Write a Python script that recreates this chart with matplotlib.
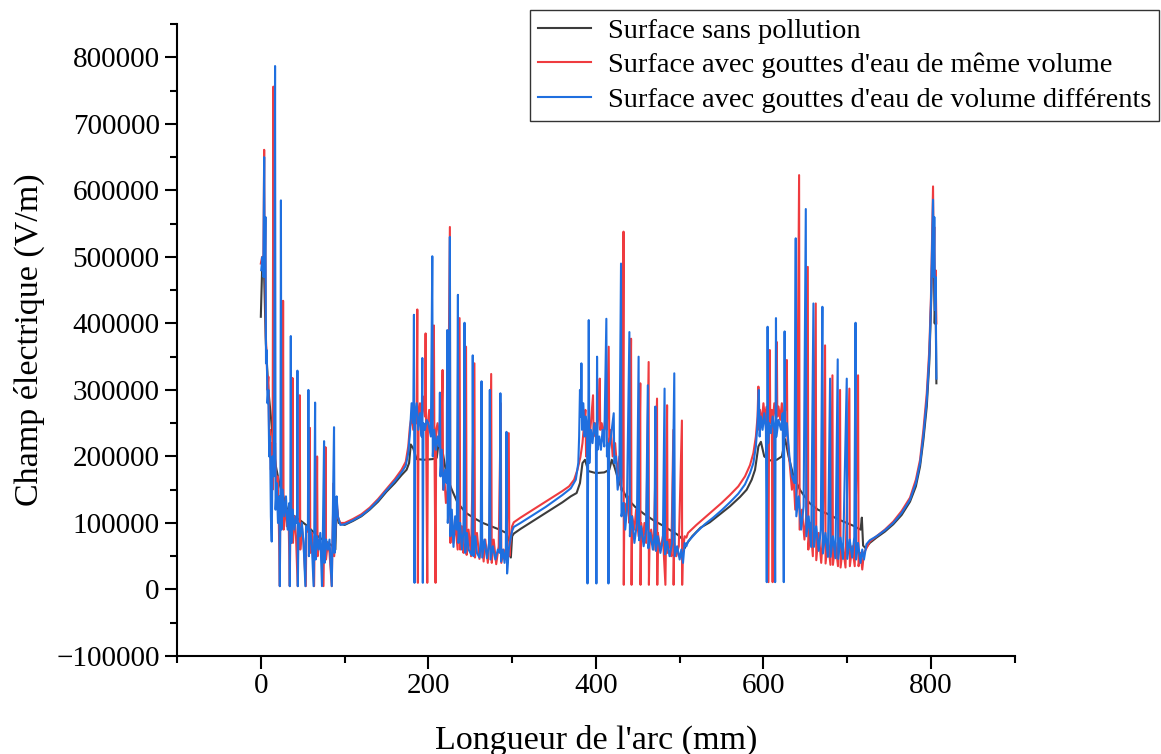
import matplotlib
matplotlib.use("Agg")
import matplotlib.pyplot as plt
from matplotlib.ticker import MultipleLocator, AutoMinorLocator
import numpy as np

# ---------------------------------------------------------------------------
# Data: (arc length mm, field V/m)
# ---------------------------------------------------------------------------
labels = [
    "Surface sans pollution",
    "Surface avec gouttes d'eau de même volume",
    "Surface avec gouttes d'eau de volume différents",
]
colors = ["#3c3c3c", "#ef3b3f", "#1f6fdf"]

black_pts = [
    (0, 410000), (1.5, 480000), (4, 470000), (6, 370000), (9, 300000), (12, 260000),
    (15, 215000), (18, 185000), (22, 160000), (27, 140000), (32, 118000), (40, 110000),
    (48, 103000), (56, 95000), (63, 86000), (70, 78000), (79, 71000), (86, 65000),
    (89, 60000), (90.5, 126000), (93, 100000), (100, 97000), (110, 103000), (120, 110000),
    (130, 120000), (140, 132000), (150, 147000), (160, 160000), (168, 172000),
    (174, 180000), (177, 190000), (179, 218000), (182, 212000), (186, 196000),
    (195, 195000), (205, 196000), (210, 198000), (213, 228000), (216, 215000),
    (222, 170000), (228, 150000), (235, 130000), (245, 115000), (255, 107000),
    (265, 100000), (275, 95000), (285, 90000), (293, 85000), (297, 72000),
    (298.5, 48000), (300, 80000), (302, 84000), (310, 91000), (320, 99000),
    (330, 107000), (340, 115000), (350, 123000), (360, 131000), (370, 140000),
    (377, 145000), (381, 160000), (384, 190000), (387, 195000), (391, 178000),
    (400, 175000), (410, 176000), (416, 180000), (419, 195000), (422, 185000),
    (428, 160000), (437, 137000), (447, 124000), (457, 114000), (470, 103000),
    (480, 96000), (489, 89000), (498, 82000), (504, 75000), (506, 62000),
    (508, 68000), (515, 80000), (525, 93000), (536, 101000), (548, 113000),
    (560, 125000), (572, 139000), (580, 150000), (586, 165000), (590, 180000),
    (594, 215000), (597, 222000), (601, 200000), (608, 194000), (616, 195000),
    (622, 200000), (626, 226000), (630, 200000), (636, 170000), (644, 149000),
    (655, 130000), (665, 120000), (676, 114000), (690, 105000), (707, 96000),
    (716, 90000), (717.5, 108000), (719, 66000), (722, 62000), (727, 70000),
    (735, 78000), (745, 87000), (755, 98000), (765, 112000), (775, 132000),
    (782, 155000), (787, 185000), (791, 225000), (795, 275000), (798, 340000),
    (800, 420000), (801.5, 500000), (802.5, 555000), (803.5, 480000),
    (804.5, 400000), (805.5, 440000), (806.5, 310000),
]

red_pts = [
    # first group of spikes
    (0, 490000), (1.5, 500000), (3, 480000), (4, 661000), (4.6, 470000), (5.3, 560000),
    (6, 380000), (7, 350000), (8, 300000), (9, 320000), (10, 220000), (11, 240000),
    (12, 180000), (13, 220000), (14, 150000), (15, 756000), (15.6, 180000),
    (17, 220000), (18.5, 130000), (20, 170000), (21.5, 100000), (22.7, 5000),
    (23.3, 140000), (25, 110000), (26, 140000), (26.6, 434000), (27.2, 90000),
    (29, 130000), (31, 95000), (33, 120000), (34.6, 5000), (35.3, 110000),
    (37.2, 100000), (37.8, 318000), (38.4, 70000), (40, 110000), (42, 80000),
    (44, 5000), (44.8, 100000), (46, 95000), (46.5, 292000), (47.1, 60000),
    (49, 95000), (51, 70000), (53.7, 5000), (54.4, 90000), (57.8, 85000),
    (58.5, 243000), (59.1, 55000), (61, 85000), (63.6, 5000), (64.3, 80000),
    (66.5, 75000), (67.2, 200000), (67.8, 50000), (70, 75000), (72, 60000),
    (74.8, 5000), (75.5, 70000), (76.6, 70000), (77.2, 214000), (77.8, 45000),
    (80, 70000), (82, 55000), (84.7, 5000), (85.4, 65000), (87, 160000),
    (87.6, 50000), (89, 90000), (90.5, 135000), (92, 108000), (95, 100000),
    # smooth rise
    (100, 100000), (110, 106000), (120, 113000), (130, 123000), (140, 136000),
    (150, 151000), (160, 166000), (168, 180000), (173, 192000), (176, 215000),
    # second group
    (178, 245000), (180, 260000), (182, 240000), (184, 270000), (186, 250000),
    (186.8, 421000), (187.5, 10000), (188.3, 260000), (190, 280000), (192, 250000),
    (194, 290000), (196, 260000), (196.7, 385000), (197.3, 240000), (198.7, 10000),
    (199.5, 250000), (201, 270000), (203, 240000), (205, 260000), (206.6, 397000),
    (207.2, 230000), (208.6, 10000), (209.4, 240000), (211, 250000), (213, 230000),
    (215, 200000), (217, 330000), (217.6, 150000), (219, 170000), (221, 130000),
    (223, 150000), (225.7, 545000), (226.3, 70000), (228, 110000), (230, 70000),
    (232, 100000), (235, 60000), (237.3, 408000), (238, 60000), (240, 95000),
    (242, 55000), (245, 365000), (245.7, 52000), (248, 90000), (251, 50000),
    (255, 340000), (255.7, 48000), (258, 85000), (261, 46000), (264, 70000),
    (266, 42000), (268, 75000), (271, 40000), (273, 80000), (275, 324000),
    (275.7, 40000), (278, 75000), (281, 38000), (284, 65000), (286.5, 280000),
    (287.1, 40000), (290, 60000), (293, 45000), (296, 235000), (296.7, 50000),
    (298, 70000), (300, 95000), (302, 101000),
    # smooth rise
    (310, 108000), (320, 116000), (330, 124000), (340, 132000), (350, 140000),
    (360, 148000), (368, 155000), (374, 165000), (378, 180000), (381.5, 199000),
    (384, 220000), (386, 250000),
    # third group
    (387.5, 270000), (388.3, 200000), (390, 240000), (392, 220000), (394, 250000),
    (396.6, 292000), (397.2, 230000), (399, 250000), (401, 235000), (403, 260000),
    (404.6, 317000), (405.2, 240000), (407, 250000), (409, 230000), (411, 255000),
    (413, 240000), (415.3, 365000), (416, 220000), (418, 240000), (420, 200000),
    (423, 220000), (426, 170000), (428, 200000), (430, 150000), (432, 200000),
    (433, 538000), (433.3, 7000), (434, 130000), (436, 110000), (438, 140000),
    (440, 100000), (442, 377000), (442.6, 7000), (443.4, 110000), (446, 90000),
    (448, 120000), (451, 80000), (453, 310000), (453.3, 7000), (454, 100000),
    (456, 75000), (458, 100000), (460, 70000), (463, 342000), (463.3, 7000),
    (464, 65000), (466, 90000), (469, 60000), (473, 287000), (473.3, 7000),
    (474, 85000), (477, 60000), (480, 80000), (483, 7000), (483.7, 75000),
    (485, 277000), (485.6, 55000), (488, 75000), (490, 50000), (492.5, 240000),
    (492.8, 7000), (493.5, 70000), (496, 50000), (499, 65000), (502.7, 254000),
    (503, 7000), (503.8, 60000), (506, 80000), (508, 78000),
    # smooth rise
    (510, 85000), (520, 97000), (530, 108000), (540, 119000), (550, 130000),
    (560, 142000), (570, 155000), (578, 170000), (584, 187000), (588, 205000),
    (591, 230000), (593, 260000),
    # fourth group
    (594, 305000), (594.8, 240000), (596, 270000), (598, 250000), (600, 280000),
    (602, 255000), (604, 275000), (606, 11000), (606.8, 260000), (607.6, 360000),
    (608.2, 250000), (610, 270000), (611, 11000), (611.7, 260000), (613, 280000),
    (615, 260000), (616, 372000), (616.6, 260000), (618, 275000), (620, 255000),
    (622, 280000), (624, 260000), (626, 270000), (628, 345000), (628.6, 230000),
    (630, 210000), (632, 180000), (634, 150000), (636, 170000), (638, 120000),
    (640, 150000), (642.6, 623000), (643.2, 90000), (646, 120000), (649, 75000),
    (651, 110000), (653, 485000), (653.6, 60000), (656, 100000), (659, 50000),
    (662.5, 430000), (663.1, 44000), (666, 85000), (669, 40000), (671, 80000),
    (673.6, 367000), (674.2, 39000), (677, 75000), (680, 37000), (682.4, 322000),
    (683, 37000), (686, 70000), (689, 35000), (691.5, 300000), (692.1, 33000),
    (695, 65000), (698, 33000), (702.6, 302000), (703.2, 35000), (706, 65000),
    (709, 35000), (713, 322000), (713.6, 35000), (716, 55000), (718, 30000),
    (720, 55000), (723, 62000),
    # final rise
    (727, 72000), (735, 80000), (745, 90000), (755, 102000), (765, 118000),
    (775, 138000), (782, 165000), (787, 195000), (791, 240000), (795, 295000),
    (798, 360000), (800, 440000), (801.5, 540000), (802.5, 606000), (803.3, 490000),
    (804, 545000), (804.8, 430000), (805.5, 480000), (806.5, 400000),
]

blue_pts = [
    # first group of spikes
    (0.5, 480000), (2, 500000), (3, 470000), (4, 650000), (4.6, 470000), (5.5, 560000),
    (6.2, 340000), (7, 360000), (8, 280000), (9, 300000), (10, 200000), (11, 230000),
    (12, 110000), (13, 72000), (14, 200000), (15, 170000), (16, 250000), (17, 787000),
    (17.6, 120000), (19, 160000), (20.5, 100000), (22, 140000), (22.7, 5000),
    (23.4, 150000), (24, 585000), (24.6, 90000), (26, 150000), (28, 110000),
    (30, 140000), (32, 90000), (34, 130000), (34.6, 5000), (35.2, 120000),
    (35.8, 381000), (36.4, 70000), (38, 120000), (40, 90000), (42, 110000),
    (43.2, 100000), (43.7, 329000), (44.2, 5000), (45, 100000), (47, 80000),
    (49, 100000), (51, 70000), (53.2, 5000), (54, 95000), (56.2, 90000),
    (56.8, 300000), (57.4, 50000), (59, 90000), (61, 65000), (63, 5000),
    (63.8, 85000), (64.8, 281000), (65.4, 45000), (67, 80000), (69, 60000),
    (71, 85000), (73, 5000), (74, 75000), (75.5, 223000), (76.2, 40000),
    (78, 75000), (80, 60000), (82, 75000), (84.7, 5000), (85.5, 70000),
    (87.4, 244000), (88, 55000), (89, 80000), (90.5, 140000), (92, 110000),
    (95, 97000),
    # smooth rise
    (100, 98000), (110, 104000), (120, 111000), (130, 121000), (140, 134000),
    (150, 149000), (160, 163000), (168, 176000), (173, 186000), (176, 205000),
    # second group
    (178, 235000), (180, 280000), (182, 250000), (182.8, 413000), (183.5, 10000),
    (184.3, 260000), (186, 280000), (188, 240000), (190, 265000), (192, 230000),
    (192.8, 348000), (193.4, 10000), (194.2, 250000), (196, 240000), (198, 255000),
    (200, 250000), (203, 230000), (204.7, 501000), (205.3, 200000), (207, 240000),
    (209, 210000), (211, 230000), (213, 215000), (213.8, 296000), (214.5, 170000),
    (216, 210000), (218, 150000), (220, 180000), (221.8, 160000), (222.6, 390000),
    (223.2, 100000), (224.5, 130000), (225.7, 530000), (226.3, 80000), (228, 120000),
    (230, 64000), (232, 110000), (234, 90000), (235.3, 443000), (236, 70000),
    (238, 100000), (240, 60000), (242, 90000), (243.2, 401000), (244, 55000),
    (246, 85000), (248, 60000), (251.6, 52000), (252.5, 80000), (253, 352000),
    (253.8, 50000), (256, 80000), (258, 55000), (261, 48000), (262.5, 75000),
    (263.5, 313000), (264.3, 48000), (267, 75000), (270, 47000), (272.5, 70000),
    (273.4, 300000), (274.2, 45000), (277, 65000), (280, 45000), (283, 60000),
    (285.2, 55000), (286, 295000), (286.8, 42000), (289, 60000), (291, 40000),
    (292.5, 60000), (293.3, 237000), (294, 24000), (296, 60000), (298, 75000),
    (300, 88000), (302, 94000),
    # smooth rise
    (310, 100000), (320, 108000), (330, 116000), (340, 124000), (350, 133000),
    (360, 142000), (370, 152000), (376, 165000), (379, 190000), (380, 230000),
    # third group
    (381, 300000), (382, 260000), (382.7, 340000), (383.5, 240000), (385, 280000),
    (386.5, 230000), (388, 260000), (389.5, 240000), (390, 9000), (390.8, 200000),
    (391.5, 405000), (392.2, 190000), (394, 240000), (396, 220000), (398, 250000),
    (400, 230000), (400.6, 9000), (401, 200000), (401.4, 350000), (402, 210000),
    (404, 230000), (406, 210000), (408, 240000), (410, 215000), (412.5, 407000),
    (413.2, 200000), (414.3, 220000), (415, 9000), (415.8, 210000), (418, 230000),
    (421.3, 265000), (422, 190000), (424, 200000), (426, 150000), (428, 170000),
    (430, 490000), (430.6, 110000), (433, 130000), (435, 90000), (437, 120000),
    (440, 387000), (440.6, 80000), (443, 110000), (446, 70000), (449, 100000),
    (451, 350000), (451.6, 74000), (454, 95000), (457, 65000), (460, 90000),
    (462, 307000), (462.6, 62000), (465, 85000), (468, 60000), (470, 80000),
    (471, 275000), (471.6, 58000), (474, 80000), (477, 55000), (480, 75000),
    (482, 302000), (482.6, 53000), (485, 72000), (488, 50000), (491, 70000),
    (493.6, 325000), (494.2, 50000), (497, 65000), (500, 45000), (502, 60000),
    (504, 40000), (506, 70000), (508, 65000),
    # smooth rise
    (510, 72000), (520, 86000), (530, 98000), (540, 108000), (550, 119000),
    (560, 131000), (570, 144000), (578, 158000), (584, 175000), (588, 190000),
    (591, 215000), (593, 250000),
    # fourth group
    (594.5, 300000), (595.5, 230000), (597, 260000), (599, 240000), (601, 265000),
    (603, 240000), (604, 11000), (604.5, 230000), (605, 395000), (605.6, 220000),
    (607, 250000), (609, 235000), (611, 260000), (613, 240000), (614, 11000),
    (614.5, 240000), (615, 408000), (615.6, 230000), (618, 255000), (621, 240000),
    (623, 265000), (624.3, 11000), (624.8, 240000), (625.3, 388000), (626, 230000),
    (628, 250000), (631, 200000), (634, 170000), (637, 160000), (638.6, 528000),
    (639.3, 110000), (642, 140000), (645, 90000), (648, 125000), (650.6, 572000),
    (651.3, 80000), (654, 110000), (657, 64000), (659.7, 430000), (660.3, 64000),
    (663, 95000), (666, 58000), (668.5, 90000), (670.4, 425000), (671, 54000),
    (674, 85000), (677, 49000), (679.6, 317000), (680.2, 49000), (683, 80000),
    (686, 47000), (688.7, 346000), (689.3, 46000), (692, 78000), (695, 46000),
    (699.5, 317000), (700.1, 46000), (703, 75000), (706, 48000), (708.5, 79000),
    (710, 401000), (710.6, 45000), (713, 70000), (716, 40000), (718, 60000),
    (720, 45000), (723, 68000),
    # final rise
    (727, 74000), (735, 80000), (745, 89000), (755, 100000), (765, 115000),
    (775, 135000), (782, 160000), (787, 190000), (791, 232000), (795, 285000),
    (798, 350000), (800, 430000), (801.5, 520000), (802.5, 586000), (803.3, 470000),
    (804, 560000), (804.8, 420000), (805.5, 470000), (806.5, 317000),
]

# ---------------------------------------------------------------------------
plt.rcParams["font.family"] = ["Liberation Serif", "DejaVu Serif"]

fig = plt.figure(figsize=(11.61, 7.54), dpi=100)
ax = fig.add_axes([0.1525, 0.130, 0.7215, 0.838])

for pts, color, label in zip([black_pts, red_pts, blue_pts], colors, labels):
    arr = np.array(pts, dtype=float)
    ax.plot(arr[:, 0], arr[:, 1], color=color, lw=1.5, label=label)

ax.set_xlim(-100, 900)
ax.set_ylim(-100000, 850000)
ax.xaxis.set_major_locator(MultipleLocator(200))
ax.xaxis.set_minor_locator(AutoMinorLocator(2))
ax.yaxis.set_major_locator(MultipleLocator(100000))
ax.yaxis.set_minor_locator(AutoMinorLocator(2))

for side in ["top", "right"]:
    ax.spines[side].set_visible(False)
for side in ["left", "bottom"]:
    ax.spines[side].set_linewidth(1.5)

ax.tick_params(which="major", direction="out", length=9, width=1.5, labelsize=21)
ax.tick_params(which="minor", direction="out", length=5, width=1.5)

ax.set_xlabel("Longueur de l'arc (mm)", fontsize=24.5, labelpad=18)
ax.set_ylabel("Champ électrique (V/m)", fontsize=24.5, labelpad=8)

leg = ax.legend(
    loc="upper right",
    bbox_to_anchor=(1159 / 1161, 1 - 10 / 754),
    bbox_transform=fig.transFigure,
    fontsize=20.5,
    frameon=True,
    fancybox=False,
    framealpha=1,
    edgecolor="#333333",
    borderaxespad=0,
    borderpad=0.28,
    labelspacing=0.3,
    handlelength=1.85,
    handletextpad=0.6,
)
leg.get_frame().set_linewidth(1.0)

fig.savefig("out.png", dpi=100)
